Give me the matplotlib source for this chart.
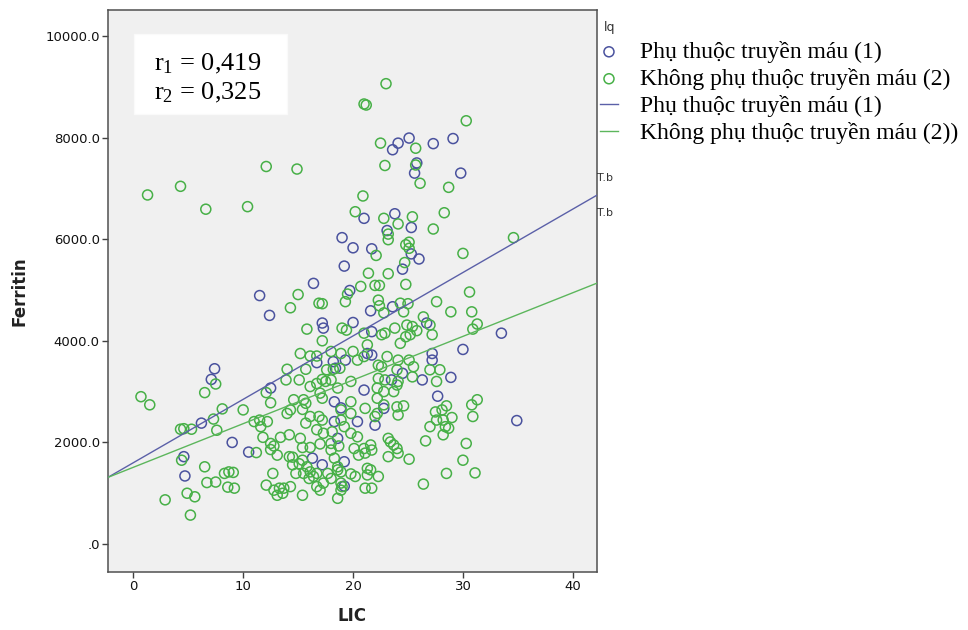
import matplotlib
matplotlib.use("Agg")
import matplotlib.pyplot as plt

# ---------------- data ----------------
# group 1: Phụ thuộc truyền máu (blue)
blue_lic = [7.4, 7.1, 6.2, 9.0, 4.6, 4.7,
            19.0, 19.2, 16.4, 11.5, 12.4, 20.0, 19.7,
            24.1, 25.1, 23.6, 27.3, 29.1, 25.8, 25.6, 29.8, 23.8, 21.0, 25.3, 23.1,
            21.7, 25.3, 26.0, 24.5, 21.6, 23.6,
            17.2, 17.3, 20.0, 16.7, 18.2, 18.4, 19.3, 12.5, 18.3, 18.3, 20.4, 18.6,
            10.5, 16.3, 17.2, 19.2, 19.2, 18.9,
            21.7, 26.7, 30.0, 27.2, 27.2, 28.9, 26.3, 24.5, 27.7, 21.3, 21.7, 23.5,
            21.0, 22.8, 22.0, 33.5, 34.9]
blue_fer = [3450, 3240, 2380, 2000, 1720, 1340,
            6030, 5470, 5130, 4890, 4500, 5830, 4990,
            7890, 7990, 7760, 7880, 7980, 7500, 7300, 7300, 6500, 6410, 6230, 6170,
            5810, 5710, 5610, 5410, 4590, 4670,
            4350, 4250, 4360, 3570, 3590, 3460, 3620, 3070, 2800, 2410, 2410, 2080,
            1810, 1690, 1560, 1620, 1140, 2680,
            4180, 4350, 3830, 3750, 3620, 3280, 3230, 3360, 2910, 3750, 3720, 3230,
            3030, 2670, 2340, 4150, 2430]

# group 2: Không phụ thuộc truyền máu (green)
green_lic = [1.3, 4.3, 6.6, 0.7, 1.5, 6.5, 7.5, 8.1, 4.3, 4.6, 5.3, 7.3, 7.6, 4.4,
             6.5, 8.3, 8.7, 9.1, 6.7, 7.5, 8.6, 9.2, 2.9, 4.9, 5.6, 5.2,
             10.4, 12.1, 14.9, 20.2, 15.0, 14.3, 16.9, 17.2, 19.3, 19.5,
             21.0, 21.2, 23.0, 30.3, 22.5, 25.7, 22.9, 25.7, 26.1, 28.7, 20.9, 22.8,
             25.4, 28.3, 24.1, 27.3, 23.2, 23.2, 24.8, 25.1, 25.1, 22.1, 30.0, 34.6,
             24.7, 21.4, 23.2, 24.8, 22.0, 22.4, 20.7, 22.3, 22.4, 22.8, 24.3, 25.0,
             24.6, 27.6, 30.6, 28.9, 30.8, 26.4,
             15.8, 19.0, 19.4, 17.2, 15.2, 16.1, 16.7, 18.0, 18.9, 20.4, 20.0, 14.0,
             15.7, 17.6, 18.2, 18.8, 13.9, 15.1, 16.7, 17.2, 17.5, 18.0, 16.1, 18.6,
             19.8, 12.1, 12.5, 14.6, 15.5, 15.7, 17.0, 17.2, 18.9, 19.8, 14.3, 14.0,
             15.4, 16.9, 17.2, 16.1, 18.9, 19.2, 19.8, 10.0, 11.0, 11.5, 12.2, 11.6,
             11.8, 15.7, 18.1, 17.3, 19.8, 20.4, 13.4, 14.2, 15.2, 15.4, 16.1, 12.5,
             12.8, 12.5, 17.0, 18.0, 18.7, 20.1, 11.2, 13.1, 14.2, 14.5, 15.4, 18.3,
             18.6, 14.5, 15.1, 20.5, 12.7, 14.8, 15.5, 16.1, 16.7, 16.0, 16.4, 17.7,
             18.0, 19.8, 20.2, 18.9, 19.0, 12.1, 12.8, 13.3, 13.6, 14.3, 13.1, 15.4,
             16.7, 17.0, 18.9, 18.6, 17.3, 13.7, 15.8, 16.7, 18.0, 18.6, 18.9,
             21.0, 22.6, 22.9, 23.8, 24.9, 25.4, 24.8, 25.2, 27.2, 31.3, 30.9, 27.9,
             25.4, 27.0, 27.6, 23.1, 24.1, 25.1, 25.5, 24.0, 22.3, 22.6, 21.3, 21.0,
             22.3, 22.9, 24.0, 24.1, 22.2, 22.8, 23.7, 22.2, 22.8, 21.1, 22.2, 22.0,
             24.0, 24.6, 24.1, 28.5, 27.5, 28.1, 27.6, 28.2, 28.4, 28.7, 29.0, 28.2,
             27.0, 30.8, 31.3, 30.9, 23.2, 23.4, 23.7, 24.0, 26.6, 21.6, 21.7, 21.0,
             21.1, 23.2, 24.1, 25.1, 21.3, 21.6, 22.3, 21.3, 21.7, 26.4, 28.5, 30.3,
             30.0, 31.1, 21.1, 27.0, 25.8, 24.3]
green_fer = [6870, 7040, 6590, 2900, 2740, 2980, 3150, 2660, 2260, 2270, 2260, 2460, 2240, 1650,
             1520, 1390, 1420, 1410, 1210, 1220, 1120, 1100, 870, 1000, 930, 570,
             6640, 7430, 7380, 6540, 4910, 4650, 4740, 4730, 4770, 4920,
             8660, 8640, 9060, 8330, 7890, 7790, 7450, 7460, 7100, 7020, 6850, 6410,
             6440, 6520, 6300, 6200, 5990, 6100, 5890, 5940, 5820, 5680, 5720, 6030,
             5540, 5330, 5320, 5110, 5090, 5090, 5070, 4800, 4690, 4550, 4740, 4730,
             4570, 4770, 4960, 4570, 4570, 4470,
             4230, 4250, 4210, 4000, 3750, 3700, 3700, 3790, 3750, 3620, 3790, 3440,
             3440, 3430, 3440, 3460, 3230, 3230, 3160, 3240, 3200, 3230, 3100, 3070,
             3200, 2980, 2780, 2840, 2840, 2770, 2970, 2870, 2640, 2800, 2640, 2570,
             2650, 2510, 2440, 2510, 2440, 2310, 2570, 2640, 2410, 2440, 2410, 2310,
             2100, 2380, 2210, 2180, 2180, 2110, 2100, 2150, 2080, 1900, 1900, 1980,
             1930, 1860, 1970, 1980, 1930, 1880, 1800, 1750, 1720, 1710, 1650, 1690,
             1520, 1560, 1580, 1750, 1390, 1390, 1390, 1420, 1390, 1290, 1330, 1390,
             1290, 1380, 1330, 1200, 1130, 1160, 1060, 1100, 1000, 1130, 960, 960,
             1130, 1060, 1060, 900, 1200, 1100, 1520, 2250, 1850, 1460, 1420,
             4150, 4120, 4150, 4250, 4310, 4280, 4080, 4120, 4120, 4330, 4230, 3430,
             3290, 3430, 3200, 3690, 3620, 3620, 3490, 3430, 3520, 3490, 3920, 3690,
             3260, 3230, 3130, 3200, 3070, 3000, 3000, 2870, 2740, 2670, 2570, 2510,
             2700, 2720, 2540, 2720, 2600, 2640, 2440, 2440, 2310, 2280, 2490, 2150,
             2310, 2740, 2840, 2510, 2080, 2010, 1950, 1880, 2030, 1950, 1850, 1880,
             1790, 1720, 1790, 1670, 1490, 1460, 1330, 1360, 1100, 1180, 1390, 1980,
             1650, 1400, 1100, 4310, 4200, 3950]

# fitted lines (intercept, slope) per group
fit_intercept = [1600, 1510]
fit_slope = [124.8, 85.9]

group_labels = ["Phụ thuộc truyền máu (1)", "Không phụ thuộc truyền máu (2)"]
line_labels = ["Phụ thuộc truyền máu (1)", "Không phụ thuộc truyền máu (2))"]
r_text = [r"$\mathrm{r}_1$ = 0,419", r"$\mathrm{r}_2$ = 0,325"]

x_ticks = [0, 10, 20, 30, 40]
y_ticks = [0, 2000, 4000, 6000, 8000, 10000]
y_ticklabels = [".0", "2000.0", "4000.0", "6000.0", "8000.0", "10000.0"]

# ---------------- styling ----------------
plt.rcParams["mathtext.fontset"] = "custom"
plt.rcParams["mathtext.rm"] = "Liberation Serif"
plt.rcParams["mathtext.it"] = "Liberation Serif:italic"

c_blue = "#4a529e"
c_green = "#47b047"
c_blue_line = "#5b60a8"
c_green_line = "#5cb65c"
serif = "Liberation Serif"

W, H = 968, 630
fig = plt.figure(figsize=(W / 100, H / 100), dpi=100)
ax = fig.add_axes([108 / W, 1 - 572 / H, (597 - 108) / W, (572 - 10) / H])
ax.set_facecolor("#f0f0f0")

sc1 = ax.scatter(blue_lic, blue_fer, s=52, facecolors="none", edgecolors=c_blue,
                 linewidths=1.1, zorder=3)
sc2 = ax.scatter(green_lic, green_fer, s=52, facecolors="none", edgecolors=c_green,
                 linewidths=1.1, zorder=3)

ln1 = ax.axline((0, fit_intercept[0]), slope=fit_slope[0], color=c_blue_line, lw=1.0, zorder=4)
ln2 = ax.axline((0, fit_intercept[1]), slope=fit_slope[1], color=c_green_line, lw=1.0, zorder=4)

ax.set_xlim(-2.3, 42.2)
ax.set_ylim(-550, 10510)
ax.set_xticks(x_ticks)
ax.set_xticklabels([str(t) for t in x_ticks])
ax.set_yticks(y_ticks)
ax.set_yticklabels(y_ticklabels)
ax.tick_params(direction="out", length=4, width=1, color="#404040",
               labelsize=9.5, labelcolor="#111111", pad=2)
for sp in ax.spines.values():
    sp.set_color("#505050")
    sp.set_linewidth(1.1)

ax.set_xlabel("LIC", fontsize=12, fontweight="bold", labelpad=10, color="#222222")
ax.set_ylabel("Ferritin", fontsize=12, fontweight="bold", labelpad=12, color="#222222")

# r box
fig.patches.append(plt.Rectangle((134 / W, 1 - 114 / H), (287 - 134) / W, (114 - 34) / H,
                                 transform=fig.transFigure, facecolor="white",
                                 edgecolor="#fafafa", lw=1, zorder=5))
for i, t in enumerate(r_text):
    fig.text(154 / W, 1 - (64 + 29 * i) / H, t, fontsize=19, family=serif,
             va="center", ha="left", zorder=6)

# legend to the right
leg = fig.legend([sc1, sc2, ln1, ln2], group_labels + line_labels,
                 loc="upper left", bbox_to_anchor=(600 / W, 1 - 41 / H),
                 frameon=False, prop={"family": serif, "size": 17},
                 handlelength=0.76, handletextpad=0.93, borderpad=0,
                 labelspacing=0.21, scatterpoints=1, borderaxespad=0)

fig.text(604 / W, 1 - 28 / H, "lq", fontsize=9, color="#333333", va="center")
fig.text(597 / W, 1 - 178 / H, "T.b", fontsize=8, color="#333333", va="center")
fig.text(597 / W, 1 - 213 / H, "T.b", fontsize=8, color="#333333", va="center")

fig.savefig("out.png", dpi=100)
